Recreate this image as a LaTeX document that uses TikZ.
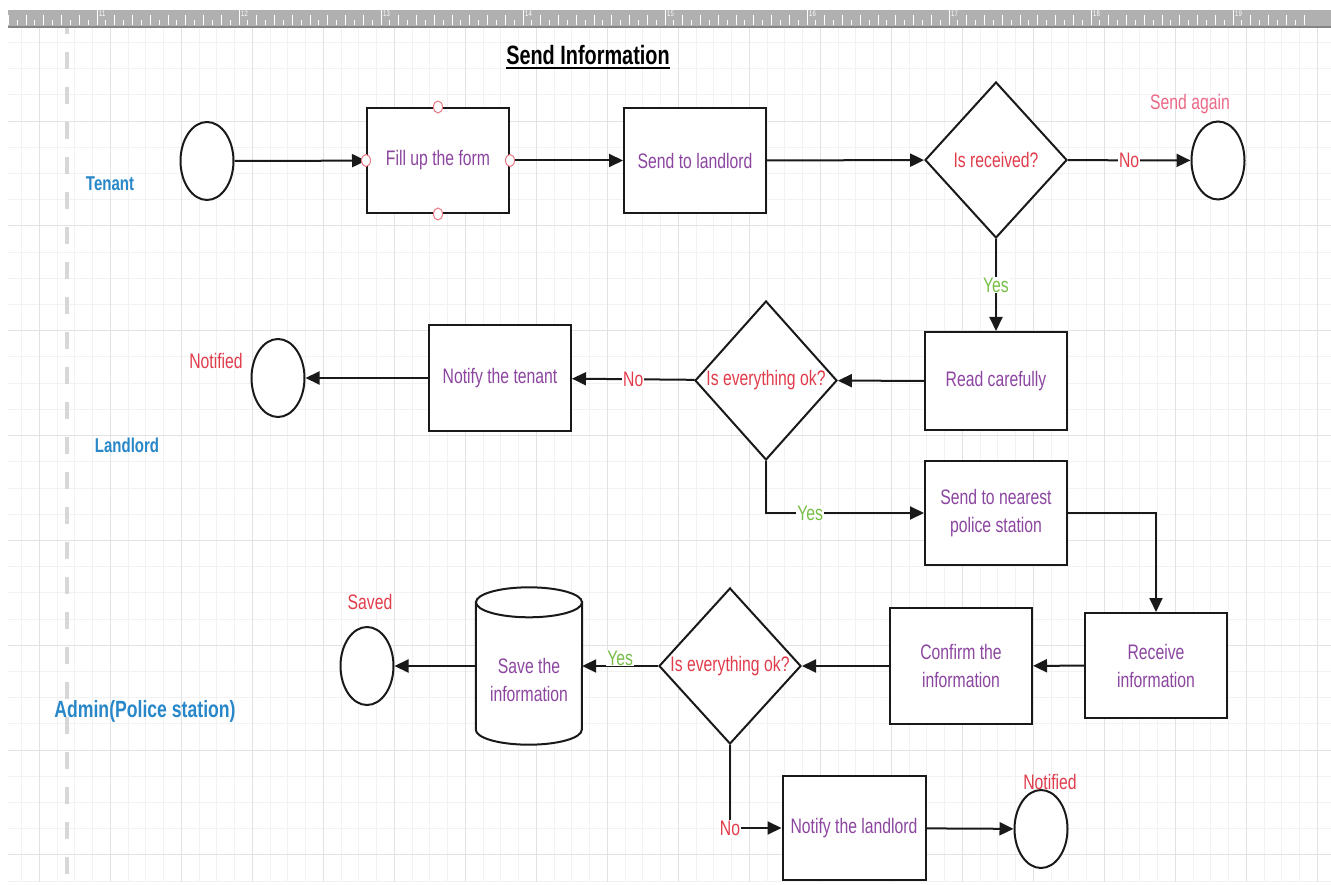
\documentclass[tikz,border=0pt]{standalone}
\usepackage{fontspec}
\setmainfont{Liberation Sans}[FakeStretch=0.75]
\usetikzlibrary{positioning, calc, shapes.geometric, arrows.meta}

\definecolor{boxtext}{RGB}{140,70,160}
\definecolor{notext}{RGB}{225,60,75}
\definecolor{againtext}{RGB}{236,105,135}
\definecolor{yestext}{RGB}{120,190,70}
\definecolor{lanetext}{RGB}{40,135,200}
\definecolor{gridminor}{RGB}{242,242,242}
\definecolor{gridmajor}{RGB}{226,226,226}
\definecolor{rulergray}{RGB}{176,176,176}
\definecolor{lanedash}{RGB}{215,215,215}

\begin{document}
\begin{tikzpicture}[x=1pt, y=-1pt,
    every node/.style={font=\fontsize{21}{28}\selectfont},
    process/.style={draw=black!90, line width=2pt, fill=white, minimum width=142pt, minimum height=105pt, inner sep=0pt, align=center, text=boxtext},
    decision/.style={diamond, draw=black!90, line width=2pt, fill=white, minimum width=142pt, minimum height=156pt, inner sep=0pt, aspect=0.91, text=notext},
    terminal/.style={ellipse, draw=black!90, line width=2pt, fill=white, minimum width=53pt, minimum height=78pt, inner sep=0pt},
    store/.style={minimum width=106pt, minimum height=157pt, inner sep=0pt},
    outline/.style={draw=black!90, line width=2pt, fill=white},
    flow/.style={line width=2pt, draw=black!90, -{Triangle[length=14pt,width=13pt]}},
    cond/.style={fill=white, inner sep=1pt},
    lane/.style={font=\fontsize{20}{24}\selectfont\bfseries, text=lanetext}]
    \useasboundingbox (0,0) rectangle (1331,885);
    \fill[white] (0,0) rectangle (1331,885);

    \foreach \i in {1,...,74}
        \draw[gridminor, line width=1pt] ({3.8+17.75*\i},28) -- ({3.8+17.75*\i},882);
    \foreach \k in {1,...,33}
        \draw[gridminor, line width=1pt] (8,{16.4+26.2*\k}) -- (1331,{16.4+26.2*\k});
    \foreach \i in {2,6,...,74}
        \draw[gridmajor, line width=1pt] ({3.8+17.75*\i},28) -- ({3.8+17.75*\i},882);
    \foreach \k in {4,8,...,32}
        \draw[gridmajor, line width=1pt] (8,{16.4+26.2*\k}) -- (1331,{16.4+26.2*\k});
    \draw[lanedash, line width=4.5pt, dash pattern=on 17pt off 18pt] (67,17) -- (67,875);

    \fill[rulergray] (8,10) rectangle (1331,28);
    \draw[rulergray!75!black, line width=2pt] (8,27) -- (1331,27);
    \begin{scope}
        \clip (8,10) rectangle (1331,28);
        \foreach \j in {0,...,152}
            \draw[white, line width=.8pt] ({-45+8.875*\j},20) -- ({-45+8.875*\j},25);
        \foreach \j in {0,2,...,152}
            \draw[white, line width=.8pt] ({-45+8.875*\j},15) -- ({-45+8.875*\j},25);
        \foreach \j in {0,...,10}
            \draw[white, line width=.8pt] ({-45+142*\j},10) -- ({-45+142*\j},25);
    \end{scope}
    \foreach \lbl [count=\k] in {11,...,19}
        \node[anchor=north west, inner sep=0pt, text=white, font=\fontsize{8}{8}\selectfont] (mark\k) at ({-43+142*\k},11) {\lbl};

    \node[font=\fontsize{26.5}{30}\selectfont\bfseries, inner sep=0pt, anchor=base] (title) at (588,65) {Send Information};
    \draw[line width=2pt] ([yshift=-3.5pt]title.base west) -- ([yshift=-3.5pt]title.base east);

    \node[lane] (tenant) at (110,184) {Tenant};
    \node[lane] (landlord) at (127,445) {Landlord};
    \node[lane, font=\fontsize{23.5}{28}\selectfont\bfseries] (admin) at (145,711) {Admin(Police station)};

    \node[terminal] (start) at (207,161) {};
    \node[process] (fill) at (438,160.5) {Fill up the form};
    \node[process] (send) at (695,160.5) {Send to landlord};
    \node[decision] (received) at (996,160) {Is received?};
    \node[terminal] (again) at (1218,160.5) {};
    \node[text=againtext] (againlbl) at (1190,104) {Send again};

    \node[process, minimum height=98pt] (read) at (996,381) {Read carefully};
    \node[decision, minimum height=159pt] (check1) at (766,380.5) {Is everything ok?};
    \node[process] (tellten) at (500,378) {Notify the tenant};
    \node[terminal] (done1) at (278,378) {};
    \node[text=notext] (notelbl1) at (216,361) {Notified};
    \node[process, minimum height=104pt] (nearest) at (996,513) {Send to nearest\\police station};

    \node[process] (receive) at (1156,665.5) {Receive\\information};
    \node[process, minimum height=116pt] (confirm) at (961,666) {Confirm the\\information};
    \node[decision] (check2) at (730,666) {Is everything ok?};
    \node[store] (save) at (529,666) {};
    \draw[outline] ([yshift=-15pt]save.north west) -- ([yshift=15pt]save.south west)
        arc[start angle=180, end angle=0, x radius=53, y radius=15]
        -- ([yshift=-15pt]save.north east) -- cycle;
    \draw[outline] ([yshift=-15pt]save.north) ellipse [x radius=53, y radius=15];
    \node[text=boxtext, align=center] (savetext) at ([yshift=-14pt]save.center) {Save the\\information};
    \node[terminal] (saved) at (367,666) {};
    \node[text=notext] (savedlbl) at (370,602) {Saved};
    \node[process, minimum width=143pt, minimum height=104pt] (tellland) at (854,828) {Notify the landlord};
    \node[terminal] (done2) at (1041,829) {};
    \node[text=notext] (notelbl2) at (1050,782) {Notified};

    \draw[flow] (start) -- (fill);
    \draw[flow] (fill) -- (send);
    \draw[flow] (send) -- (received);
    \draw[flow] (received) -- node[cond, text=notext] {No} (again);
    \draw[flow] (received) -- node[cond, text=yestext] {Yes} (read);
    \draw[flow] (read) -- (check1);
    \draw[flow] (check1) -- node[cond, text=notext] {No} (tellten);
    \draw[flow] (tellten) -- (done1);
    \draw[flow] (check1) |- node[cond, text=yestext, pos=.64] {Yes} (nearest);
    \draw[flow] (nearest) -| (receive);
    \draw[flow] (receive) -- (confirm);
    \draw[flow] (confirm) -- (check2);
    \draw[flow] (check2) -- node[cond, text=yestext, yshift=8pt] {Yes} (save);
    \draw[flow] (save) -- (saved);
    \draw[flow] (check2) |- node[cond, text=notext] {No} (tellland);
    \draw[flow] (tellland) -- (done2);

    \foreach \a in {north, south, east, west}
        \draw[notext!70, line width=1pt, fill=white] (fill.\a) circle [x radius=4.5, y radius=6];
\end{tikzpicture}
\end{document}
